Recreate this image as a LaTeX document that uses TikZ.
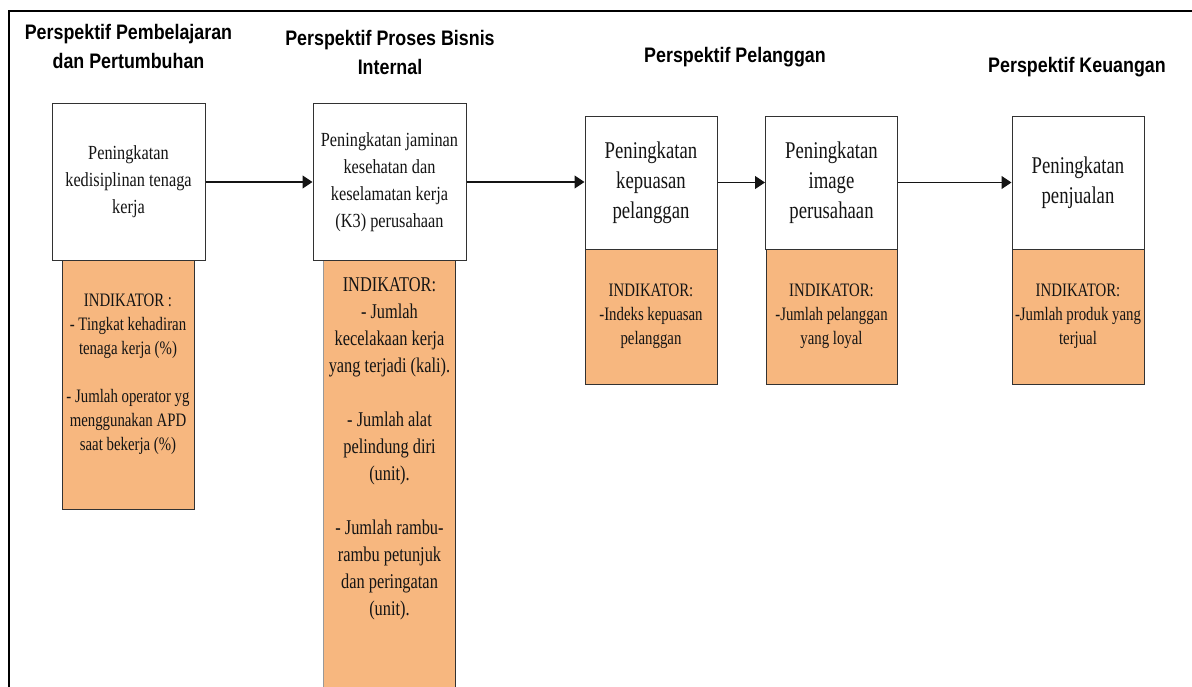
\documentclass[tikz,border=0pt]{standalone}
\usepackage{fontspec}
\setmainfont{Liberation Serif}
\newfontfamily\headfont{Liberation Sans}[FakeStretch=0.85]
\newfontfamily\bodyfont{Liberation Serif}[FakeStretch=0.78]
\newfontfamily\widebody{Liberation Serif}[FakeStretch=0.815]
\usetikzlibrary{arrows.meta}
\definecolor{indfill}{RGB}{247,183,127}
\definecolor{edge}{RGB}{50,50,50}
\definecolor{ink}{RGB}{20,20,20}
\begin{document}
\begin{tikzpicture}[x=1pt,y=-1pt,
  persp/.style={font=\headfont\bfseries\fontsize{21}{29}\selectfont, align=center, inner sep=0pt, text=black},
  goalA/.style={draw=edge, line width=1pt, fill=white, minimum width=153pt, minimum height=157pt,
    inner sep=0pt, align=center, font=\widebody\fontsize{20}{27}\selectfont, text=ink},
  goalB/.style={draw=edge, line width=1pt, fill=white, minimum width=132pt, minimum height=133pt,
    inner sep=0pt, align=center, font=\bodyfont\fontsize{24}{30}\selectfont, text=ink},
  indbox/.style={draw=edge, line width=1pt, fill=indfill, inner sep=0pt},
  indtext/.style={align=center, inner sep=0pt, text=ink, font=\bodyfont\fontsize{19}{24}\selectfont},
  flow/.style={draw=ink, line width=1.2pt, -{Triangle[length=10pt,width=13pt]}},
]
\clip (0,0) rectangle (1192,686);
\fill[white] (0,0) rectangle (1192,686);

% outer frame (top and left edges)
\draw[line width=2.2pt] (1200,11) -- (9,11) -- (9,700);

% perspective headings
\node[persp] (t1) at (128.5,46) {Perspektif Pembelajaran\\dan Pertumbuhan};
\node[persp] (t2) at (390,52) {Perspektif Proses Bisnis\\Internal};
\node[persp] (t3) at (735,57) {Perspektif Pelanggan};
\node[persp] (t4) at (1077,67) {Perspektif Keuangan};

% indicator panels
\node[indbox, minimum width=132pt, minimum height=249pt] (o1) at (128,384.5) {};
\node[indbox, draw=none, minimum width=131pt, minimum height=440pt] (o2) at (389.5,480) {};
\draw[gray!80, line width=1pt] (o2.north west) -- (o2.south west);
\draw[edge, line width=1pt] (o2.north east) -- (o2.south east);
\node[indbox, minimum width=132pt, minimum height=135pt] (o3) at (651,316.5) {};
\node[indbox, minimum width=131pt, minimum height=135pt] (o4) at (831.5,316.5) {};
\node[indbox, minimum width=132pt, minimum height=135pt] (o5) at (1078,316.5) {};

% indicator texts
\node[indtext] (i1) at ([yshift=10.5pt]o1.center) {INDIKATOR :\\- Tingkat kehadiran\\tenaga kerja (\%)\\[24pt]- Jumlah operator yg\\menggunakan APD\\saat bekerja (\%)};
\node[indtext, font=\bodyfont\fontsize{21}{27}\selectfont] (i2) at (389.5,448.5) {INDIKATOR:\\- Jumlah\\kecelakaan kerja\\yang terjadi (kali).\\[27pt]- Jumlah alat\\pelindung diri\\(unit).\\[27pt]- Jumlah rambu-\\rambu petunjuk\\dan peringatan\\(unit).};
\node[indtext] (i3) at (o3.center) {INDIKATOR:\\-Indeks kepuasan\\pelanggan};
\node[indtext] (i4) at (o4.center) {INDIKATOR:\\-Jumlah pelanggan\\yang loyal};
\node[indtext] (i5) at (o5.center) {INDIKATOR:\\-Jumlah produk yang\\terjual};

% strategic objectives
\node[goalA] (b1) at (128.5,182) {Peningkatan\\kedisiplinan tenaga\\kerja};
\node[goalA] (b2) at (389.5,182) {Peningkatan jaminan\\kesehatan dan\\keselamatan kerja\\(K3) perusahaan};
\node[goalB] (b3) at (651,182.5) {Peningkatan\\kepuasan\\pelanggan};
\node[goalB] (b4) at (831.5,182.5) {Peningkatan\\image\\perusahaan};
\node[goalB] (b5) at (1078,182.5) {Peningkatan\\penjualan};

% cause-and-effect links
\draw[flow] (b1.east) -- (b2.west);
\draw[flow] (b2.east) -- (b2.east -| b3.west);
\draw[flow] (b3.east) -- (b4.west);
\draw[flow] (b4.east) -- (b5.west);
\end{tikzpicture}
\end{document}
